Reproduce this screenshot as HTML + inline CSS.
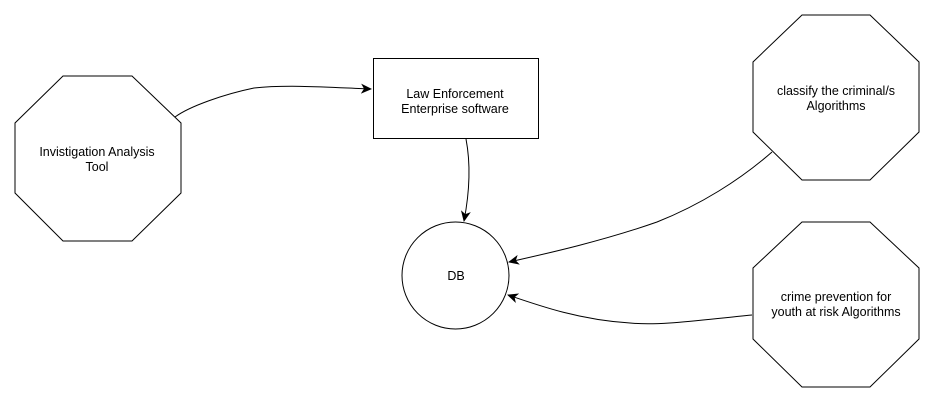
<!DOCTYPE html>
<html><head><meta charset="utf-8"><style>
html,body{margin:0;padding:0;background:#fff;width:934px;height:403px;overflow:hidden}
svg text{font-family:"Liberation Sans",sans-serif;font-size:12.5px;fill:#000}
</style></head><body>
<svg width="934" height="403" viewBox="0 0 934 403" xmlns="http://www.w3.org/2000/svg">
<defs><marker id="a" markerWidth="12" markerHeight="10" refX="10" refY="5" orient="auto" markerUnits="userSpaceOnUse"><path d="M0,0 L11,5 L0,10 L3,5 Z" fill="#000"/></marker></defs>
<g fill="#fff" stroke="#000" stroke-width="1">
<polygon points="63,76 132,76 181,123 181,193 132,241 63,241 15,193 15,123"/>
<rect x="373.5" y="58.5" width="165" height="80"/>
<ellipse cx="455.5" cy="275.5" rx="53.5" ry="53.5"/>
<polygon points="802,15 870,15 919,62 919,132 870,180 802,180 753,132 753,62"/>
<polygon points="802,222 870,222 919,268 919,339 870,387 802,387 753,339 753,268"/>
</g>
<g fill="none" stroke="#000" stroke-width="1" marker-end="url(#a)">
<path d="M175,117 C190,106 225,94 254,88 C290,84 340,88 371,89"/>
<path d="M466,139 C471,165 469,195 464,221"/>
<path d="M772,152 C740,180 700,205 657,222 C600,242 540,255 509,262"/>
<path d="M752,315 C700,320 660,326 630,323 C580,320 540,306 508,295"/>
</g>
<g text-anchor="middle">
<text x="97" y="156">Invistigation Analysis</text><text x="97" y="171">Tool</text>
<text x="455" y="98">Law Enforcement</text><text x="455" y="113">Enterprise software</text>
<text x="456" y="280">DB</text>
<text x="836" y="95">classify the criminal/s</text><text x="836" y="110">Algorithms</text>
<text x="836" y="301">crime prevention for</text><text x="836" y="316">youth at risk Algorithms</text>
</g>
</svg>
</body></html>
